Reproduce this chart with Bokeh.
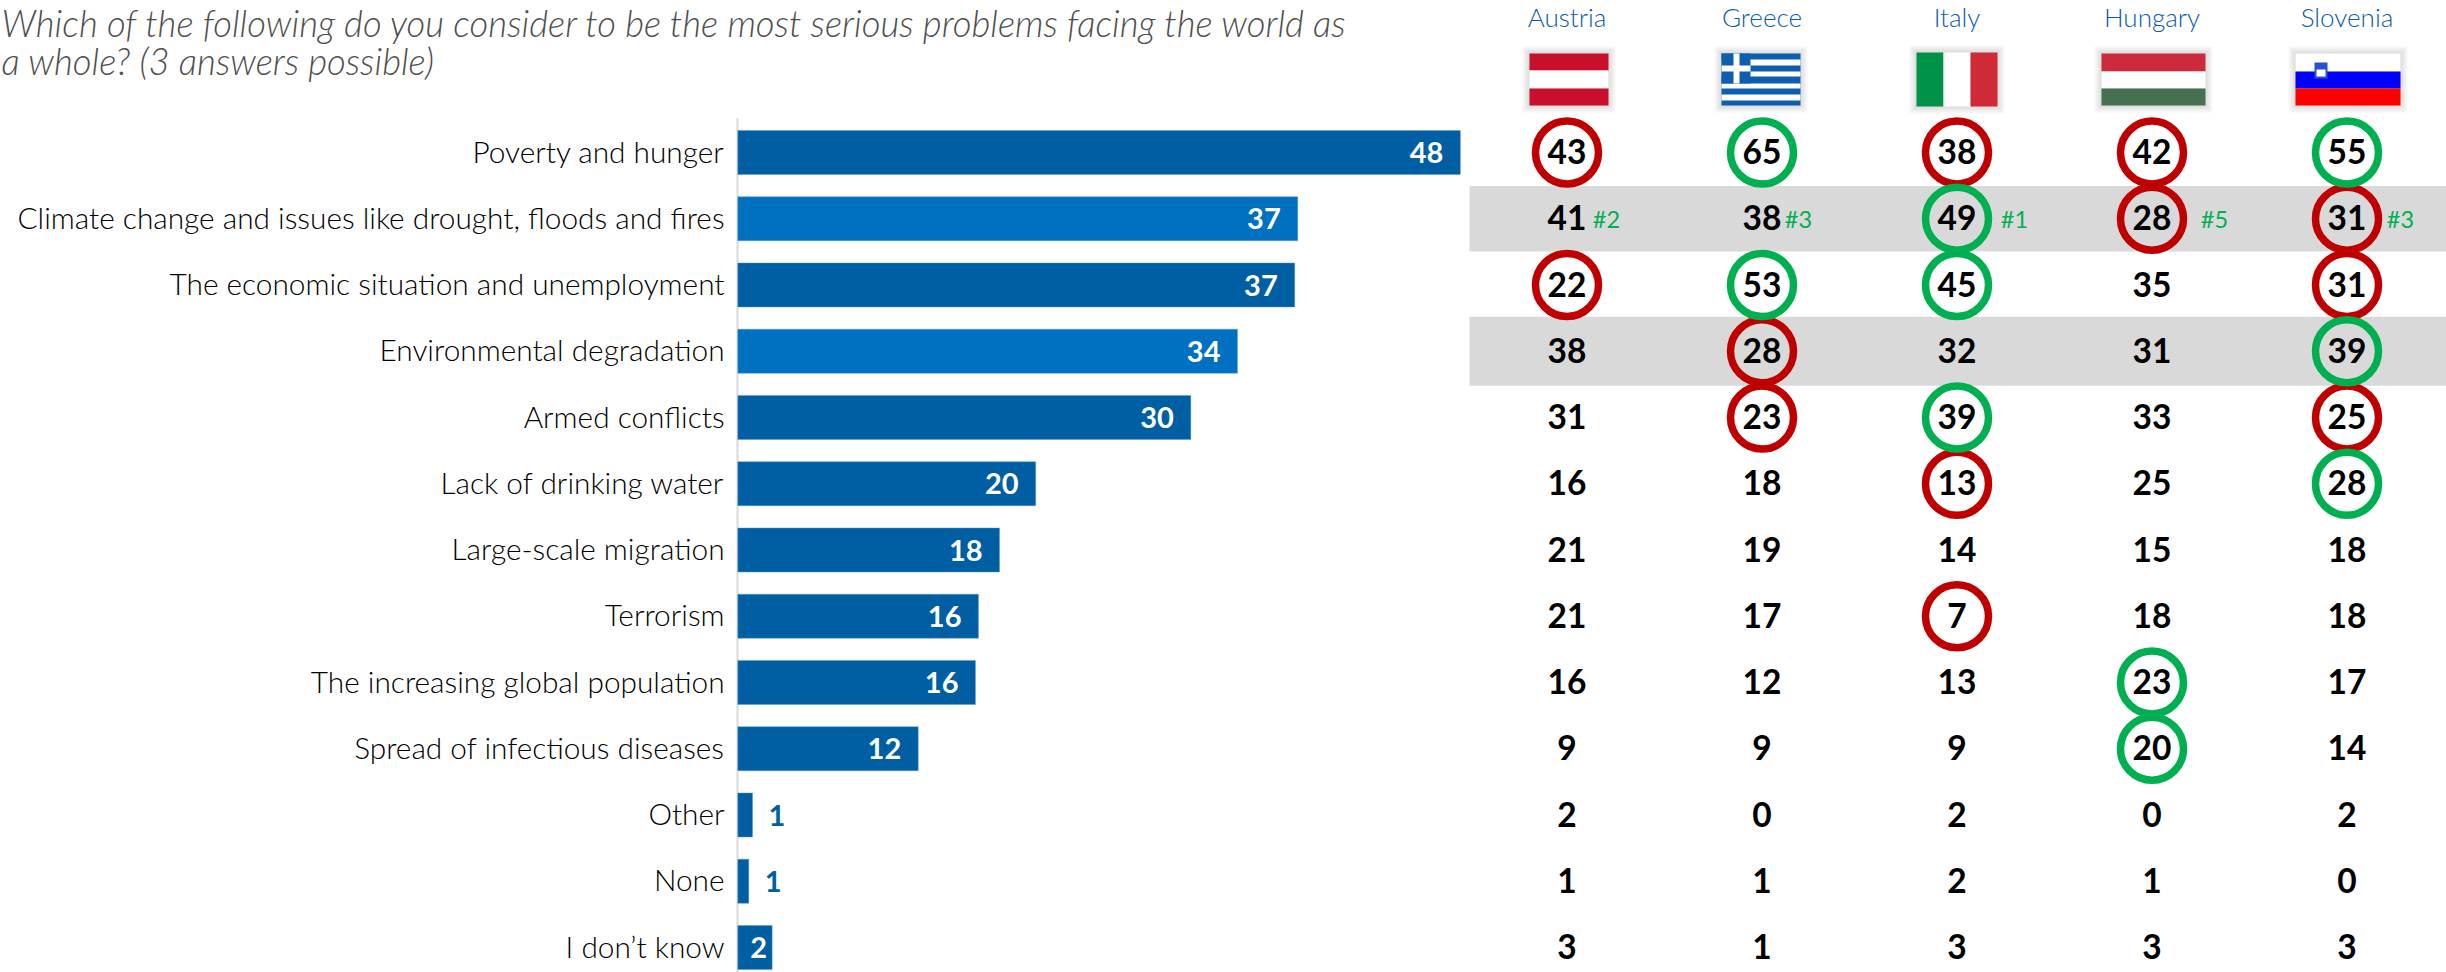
from bokeh.plotting import figure
from bokeh.embed import file_html
from bokeh.resources import INLINE
from bokeh.models import Range1d
from bokeh.core.properties import value

FONT = "Lato"
LIGHT = "Lato Light, Lato"
title_lines = ["Which of the following do you consider to be the most serious problems facing the world as",
               "a whole? (3 answers possible)"]
categories = ["Poverty and hunger", "Climate change and issues like drought, floods and fires",
              "The economic situation and unemployment", "Environmental degradation", "Armed conflicts",
              "Lack of drinking water", "Large-scale migration", "Terrorism",
              "The increasing global population", "Spread of infectious diseases", "Other", "None", "I don\u2019t know"]
bar_lengths = [48.0, 37.2, 37.0, 33.2, 30.1, 19.8, 17.4, 16.0, 15.8, 12.0, 1.0, 0.75, 2.3]
bar_labels = ["48", "37", "37", "34", "30", "20", "18", "16", "16", "12", "1", "1", "2"]
highlight_rows = [1, 3]
countries = ["Austria", "Greece", "Italy", "Hungary", "Slovenia"]
table = [
    [43, 65, 38, 42, 55],
    [41, 38, 49, 28, 31],
    [22, 53, 45, 35, 31],
    [38, 28, 32, 31, 39],
    [31, 23, 39, 33, 25],
    [16, 18, 13, 25, 28],
    [21, 19, 14, 15, 18],
    [21, 17, 7, 18, 18],
    [16, 12, 13, 23, 17],
    [9, 9, 9, 20, 14],
    [2, 0, 2, 0, 2],
    [1, 1, 2, 1, 0],
    [3, 1, 3, 3, 3],
]
# (row, column) of ringed cells
red_cells = [(0,0),(0,2),(0,3),(1,3),(1,4),(2,0),(2,4),(3,1),(4,1),(4,4),(5,2),(7,2)]
green_cells = [(0,1),(0,4),(1,2),(2,1),(2,2),(3,4),(4,2),(5,4),(8,3),(9,3)]
ranks = ["#2", "#3", "#1", "#5", "#3"]
rank_px = [1606, 1798, 2014, 2214, 2400]

RED, GREEN = "#c00000", "#00b050"
W, H = 2446, 972
p = figure(width=W, height=H, output_backend="svg", toolbar_location=None,
           x_range=Range1d(0, W), y_range=Range1d(H, 0), min_border=0,
           background_fill_color="white", border_fill_color="white", outline_line_color=None)
p.axis.visible = False
p.grid.visible = False
PCT0, PCT = 737.0, 15.06
COL0, COLD = 1566.5, 195.0
ROW0, ROWD = 152.0, 66.25
p.extra_x_ranges = {"pct": Range1d((0-PCT0)/PCT, (W-PCT0)/PCT),
                    "col": Range1d((0-COL0)/COLD, (W-COL0)/COLD)}
p.extra_y_ranges = {"row": Range1d((H-ROW0)/ROWD, (0-ROW0)/ROWD)}

rows = list(range(len(categories)))

# highlight bands
p.hbar(y=highlight_rows, left=1469, right=2446, height=[0.985, 1.04], y_range_name="row",
       fill_color="#d9d9d9", line_color=None)

# axis line
p.segment(x0=[0], x1=[0], y0=[-0.52], y1=[12.6], x_range_name="pct", y_range_name="row",
          line_color="#d9d9d9", line_width=2)

# bars
colors = ["#0070c0" if r in highlight_rows else "#005ea2" for r in rows]
p.hbar(y=rows, left=0.02, right=bar_lengths, height=0.665, x_range_name="pct", y_range_name="row",
       fill_color=colors, line_color="#5b9bd5", line_width=0.8, line_alpha=0.6)

# category labels
p.text(x=[-0.86]*13, y=rows, text=categories, x_range_name="pct", y_range_name="row", y_offset=-1.5,
       text_align="right", text_baseline="middle", text_font=value(LIGHT), text_font_style="normal",
       text_font_size="29.8px", text_color="black")

# bar value labels
inside = rows[:10]
p.text(x=[bar_lengths[i] for i in inside], y=inside, text=[bar_labels[i] for i in inside],
       x_offset=-17, x_range_name="pct", y_range_name="row", text_align="right", text_baseline="middle",
       text_font=value(FONT), text_font_style="bold", text_font_size="29px", text_color="white")
p.text(x=[bar_lengths[10], bar_lengths[11]], y=[10, 11], text=[bar_labels[10], bar_labels[11]],
       x_offset=16, x_range_name="pct", y_range_name="row", text_align="left", text_baseline="middle",
       text_font=value(FONT), text_font_style="bold", text_font_size="29px", text_color="#005ea2")
p.text(x=[bar_lengths[12]], y=[12], text=[bar_labels[12]],
       x_offset=-5, x_range_name="pct", y_range_name="row", text_align="right", text_baseline="middle",
       text_font=value(FONT), text_font_style="bold", text_font_size="29px", text_color="white")

# title
p.text(x=[1, 1], y=[22, 60], text=title_lines, text_align="left", text_baseline="middle",
       text_font=value(LIGHT), text_font_style="italic", text_font_size="36.5px", text_color="#4f4f4f")

# country headers
p.text(x=list(range(5)), y=[16]*5, text=countries, x_range_name="col", text_align="center",
       text_baseline="middle", text_font=value(LIGHT), text_font_size="26px", text_color="#0a5ca6")

# rings
for cells, col in ((red_cells, RED), (green_cells, GREEN)):
    p.scatter(x=[c for r, c in cells], y=[r for r, c in cells], x_range_name="col", y_range_name="row",
              marker="circle", size=63, fill_color=None, line_color=col, line_width=7.5)

# table values
tx, ty, tt = [], [], []
for r, row in enumerate(table):
    for c, v in enumerate(row):
        tx.append(c); ty.append(r); tt.append(str(v))
p.text(x=tx, y=ty, text=tt, x_range_name="col", y_range_name="row", y_offset=-1, text_align="center",
       text_baseline="middle", text_font=value(FONT), text_font_style="bold", text_font_size="33.5px",
       text_color="black")

# rank tags
p.text(x=rank_px, y=[1]*5, text=ranks, y_range_name="row", text_align="center", text_baseline="middle",
       text_font=value(FONT), text_font_size="23.5px", text_color=GREEN)

# flag outlines (left, right, top, bottom) used for soft shadows
flag_boxes = [(1529,1608,53,105),(1721,1800,53,105),(1916,1997,52,106),(2101,2205,53,105),(2295,2400,53,105)]
for grow in (7, 5, 3, 1):
    p.quad(left=[b[0]-grow for b in flag_boxes], right=[b[1]+grow for b in flag_boxes],
           top=[b[2]-grow for b in flag_boxes], bottom=[b[3]+grow for b in flag_boxes],
           fill_color="black", fill_alpha=0.035, line_color=None)

# flags: (left, right, top, bottom, colour)
flag_rects = [
    # Austria
    (1529,1608,53,70,"#c8102e"),(1529,1608,70,88,"#ffffff"),(1529,1608,88,105,"#c8102e"),
    # Greece
    (1721,1800,53,105,"#0d5eaf"),
    (1721,1800,59,65,"#ffffff"),(1721,1800,71,76,"#ffffff"),(1721,1800,83,88,"#ffffff"),(1721,1800,94,100,"#ffffff"),
    (1721,1750,53,83,"#0d5eaf"),(1733,1739,53,83,"#ffffff"),(1721,1750,65,71,"#ffffff"),
    # Italy
    (1916,1943,52,106,"#009246"),(1943,1970,52,106,"#ffffff"),(1970,1997,52,106,"#ce2b37"),
    # Hungary
    (2101,2205,53,71,"#cd2a3e"),(2101,2205,71,88,"#ffffff"),(2101,2205,88,105,"#477050"),
    # Slovenia
    (2295,2400,53,71,"#ffffff"),(2295,2400,71,88,"#0000ff"),(2295,2400,88,105,"#ff0000"),
    (2314,2327,62,78,"#2a4fd0"),(2316,2325,69,76,"#ffffff"),
]
p.quad(left=[f[0] for f in flag_rects], right=[f[1] for f in flag_rects],
       top=[f[2] for f in flag_rects], bottom=[f[3] for f in flag_rects],
       fill_color=[f[4] for f in flag_rects], line_color=None)

open("out.html", "w").write(file_html(p, INLINE))
